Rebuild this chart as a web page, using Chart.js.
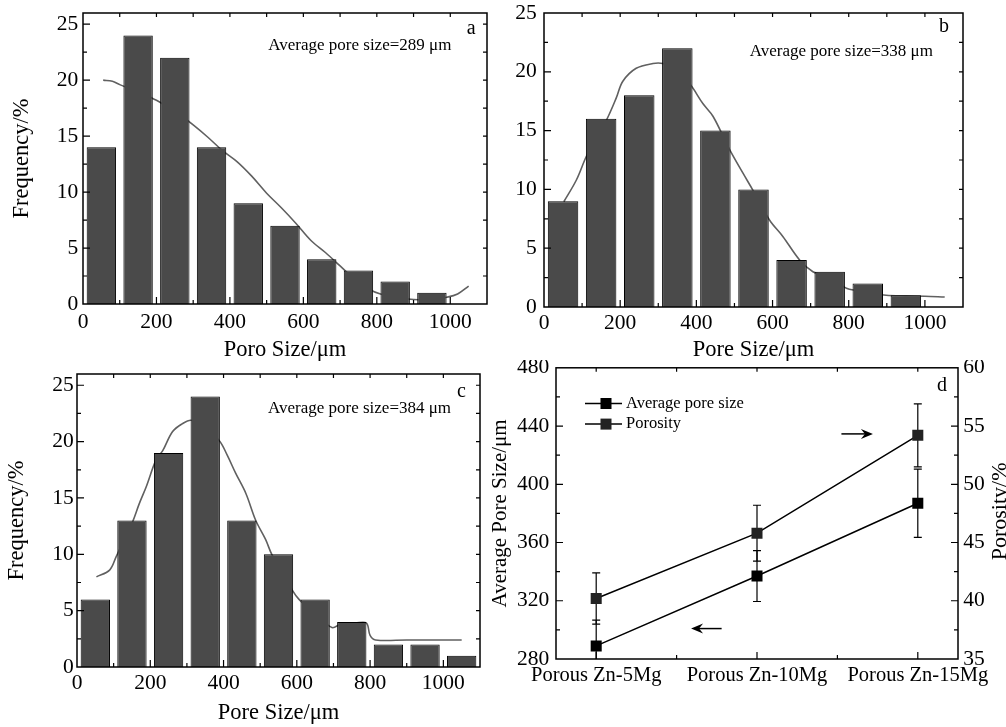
<!DOCTYPE html>
<html><head><meta charset="utf-8">
<script src="https://cdn.jsdelivr.net/npm/chart.js@4.4.1/dist/chart.umd.min.js"></script>
<style>
html,body{margin:0;padding:0;background:#fff;width:1006px;height:727px;overflow:hidden}
canvas{position:absolute}
</style></head><body>
<canvas id="ca" style="left:0;top:0" width="500" height="366"></canvas>
<canvas id="cb" style="left:490px;top:0" width="516" height="366"></canvas>
<canvas id="cc" style="left:0;top:360px" width="500" height="367"></canvas>
<canvas id="cd" style="left:490px;top:360px" width="516" height="367"></canvas>
<script>
const FONT = "'Liberation Serif', 'Times New Roman', serif";

// ---- histogram data ----
const binCenters = [50,150,250,350,450,550,650,750,850,950,1050];
const freqA = [14,24,22,14,9,7,4,3,2,1];
const freqB = [9,16,18,22,15,10,4,3,2,1];
const freqC = [6,13,19,24,13,10,6,4,2,2,1];

const fitAx = [55,80,100,130,160,200,230,260,300,340,380,420,460,500,540,580,620,660,700,740,780,810,850,900,950,990,1020,1050];
const fitAy = [20,19.9,19.6,19.2,18.8,18.2,17.6,17.0,16.0,14.9,13.7,12.7,11.4,9.9,8.6,7.2,5.7,4.6,3.4,2.2,1.3,0.9,0.6,0.4,0.4,0.6,0.9,1.6];

const fitBx = [52,85,111,140,164,190,207,242,286,312,340,382,417,444,487,522,549,592,627,671,706,741,794,820,860,898,950,1000,1052];
const fitBy = [8.95,10.8,12.8,14.6,15.9,17.8,19.2,20.3,20.7,20.7,20.3,19.0,17.3,16.2,13.4,11.4,9.9,7.4,6.0,4.0,3.0,2.6,1.6,1.4,1.15,1.0,0.95,0.92,0.85];

const fitCx = [53,89,107,130,152,170,189,216,234,261,288,311,340,388,410,433,461,488,515,533,570,588,606,630,660,696,720,760,790,800,815,900,1000,1050];
const fitCy = [8.0,8.6,9.8,11.4,12.9,14.5,16.0,18.4,19.2,20.9,21.6,21.9,21.5,20.1,18.8,17.2,15.4,13.0,11.3,9.9,8.0,6.8,6.0,5.3,4.5,3.5,3.8,3.9,3.9,2.8,2.4,2.4,2.4,2.4];

const histXTicks = [0,200,400,600,800,1000];
const histYTicks = [0,5,10,15,20,25];

// ---- panel d data ----
const alloys = ['Porous Zn-5Mg','Porous Zn-10Mg','Porous Zn-15Mg'];
const avgSize = [289,337,387];
const avgSizeErr = [17.7,17.5,23.4];
const porosity = [40.2,45.8,54.2];
const porosityErr = [2.2,2.4,2.7];
const sizeTicks = [280,320,360,400,440,480];
const porTicks = [35,40,45,50,55,60];

function pts(xs, ys){ return ys.map((y,i)=>({x:xs[i], y:y})); }

const decor = {
  id: 'decor',
  beforeDatasetsDraw(chart){
    const {ctx, chartArea:a} = chart;
    chart.data.datasets.forEach((ds,i)=>{
      if(!ds.errors) return;
      const meta = chart.getDatasetMeta(i);
      const ys = chart.scales[ds.yAxisID];
      ctx.save(); ctx.strokeStyle='#000'; ctx.lineWidth=1.2;
      ds.data.forEach((p,j)=>{
        const px = meta.data[j].x;
        const t = ys.getPixelForValue(p.y + ds.errors[j]);
        const b = ys.getPixelForValue(p.y - ds.errors[j]);
        ctx.beginPath();
        ctx.moveTo(px, Math.max(t,a.top)); ctx.lineTo(px, Math.min(b,a.bottom));
        if (t>=a.top){ ctx.moveTo(px-4,t); ctx.lineTo(px+4,t); }
        if (b<=a.bottom){ ctx.moveTo(px-4,b); ctx.lineTo(px+4,b); }
        ctx.stroke();
      });
      ctx.restore();
    });
  },
  afterDraw(chart, args, o){
    const {ctx, chartArea:a} = chart;
    ctx.save();
    ctx.strokeStyle='#000'; ctx.fillStyle='#000';
    const marks = (scale)=>{
      const maj = scale.ticks.map(t=>t.value);
      const h = (maj[1]-maj[0])/2, out=[];
      for(let i=Math.ceil((scale.min-maj[0])/h-1e-9); maj[0]+i*h<=scale.max+1e-9; i++)
        out.push({v:maj[0]+i*h, major:i%2===0});
      return out;
    };
    ctx.lineWidth=1.2;
    ctx.beginPath();
    const sx = chart.scales.x;
    marks(sx).forEach(m=>{
      const p = sx.getPixelForValue(m.v);
      if(p<a.left+1||p>a.right-1) return;
      ctx.moveTo(p,a.bottom); ctx.lineTo(p,a.bottom-(m.major?7:4));
      ctx.moveTo(p,a.top); ctx.lineTo(p,a.top+4);
    });
    const sy = chart.scales.y, sy2 = chart.scales.y2;
    marks(sy).forEach(m=>{
      const p = sy.getPixelForValue(m.v);
      if(p<a.top+1||p>a.bottom-1) return;
      ctx.moveTo(a.left,p); ctx.lineTo(a.left+(m.major?7:4),p);
      if(!sy2){ ctx.moveTo(a.right,p); ctx.lineTo(a.right-4,p); }
    });
    if(sy2) marks(sy2).forEach(m=>{
      const p = sy2.getPixelForValue(m.v);
      if(p<a.top+1||p>a.bottom-1) return;
      ctx.moveTo(a.right,p); ctx.lineTo(a.right-(m.major?7:4),p);
    });
    ctx.stroke();
    ctx.lineWidth=1.5;
    ctx.strokeRect(a.left,a.top,a.right-a.left,a.bottom-a.top);

    (o.notes||[]).forEach(n=>{
      ctx.font = n.size+'px '+FONT;
      ctx.textAlign = n.align; ctx.textBaseline='middle';
      ctx.fillText(n.text, sx.getPixelForValue(n.x), sy.getPixelForValue(n.y));
    });
    (o.arrows||[]).forEach(ar=>{
      const x1=sx.getPixelForValue(ar.x1), x2=sx.getPixelForValue(ar.x2), y=sy.getPixelForValue(ar.y);
      const d = x2>x1?1:-1;
      ctx.lineWidth=1.5;
      ctx.beginPath(); ctx.moveTo(x1,y); ctx.lineTo(x2-d*4,y); ctx.stroke();
      ctx.beginPath(); ctx.moveTo(x2,y); ctx.lineTo(x2-d*12,y-5); ctx.lineTo(x2-d*8,y); ctx.lineTo(x2-d*12,y+5); ctx.closePath(); ctx.fill();
    });
    if(o.legend){
      const L=o.legend;
      chart.data.datasets.forEach((ds,i)=>{
        const y=a.top+L.dy+i*L.gap, x0=a.left+L.dx;
        ctx.strokeStyle=ds.borderColor; ctx.lineWidth=1.5;
        ctx.beginPath(); ctx.moveTo(x0,y); ctx.lineTo(x0+37,y); ctx.stroke();
        ctx.fillStyle=ds.backgroundColor; ctx.fillRect(x0+21-5.5,y-5.5,11,11);
        ctx.fillStyle='#000'; ctx.font='16.5px '+FONT; ctx.textAlign='left'; ctx.textBaseline='middle';
        ctx.fillText(ds.label, x0+41, y);
      });
    }
    if(o.rightTitle){
      ctx.save();
      ctx.translate(sy2.right-0.5, (a.top+a.bottom)/2-2);
      ctx.rotate(-Math.PI/2);
      ctx.font='22px '+FONT; ctx.textAlign='center'; ctx.textBaseline='alphabetic'; ctx.fillStyle='#000';
      ctx.fillText(o.rightTitle,0,0);
      ctx.restore();
    }
    ctx.restore();
  }
};

function tickFont(){ return {family:FONT, size:21.5}; }
const TITLE_FONT = {family:FONT, size:22.5};

function hist(id, freq, fx, fy, p){
  new Chart(document.getElementById(id), {
    type:'bar',
    data:{ datasets:[
      {type:'bar', data:pts(binCenters,freq), backgroundColor:'#4a4a4a', borderColor:'#000', borderWidth:1,
       barPercentage:0.8, categoryPercentage:1.0, order:0},
      {type:'line', data:pts(fx,fy), borderColor:'#606060', borderWidth:1.6, pointRadius:0, tension:0.35, fill:false, order:1}
    ]},
    options:{
      responsive:false, animation:false, events:[],
      layout:{padding:{top:p.padTop, right:p.padRight, left:0, bottom:0}},
      plugins:{legend:{display:false}, tooltip:{enabled:false},
        decor:{notes:[
          {text:p.note, x:p.noteX, y:p.noteY, size:17, align:'right'},
          {text:p.letter, x:p.letX, y:p.letY, size:20, align:'center'}
        ]}},
      scales:{
        x:{type:'linear', min:0, max:1100, offset:false,
          grid:{display:false, drawTicks:false}, border:{display:false},
          afterBuildTicks:s=>{ s.ticks = histXTicks.map(v=>({value:v})); },
          ticks:{font:tickFont(), color:'#000', padding:p.xTickPad, maxRotation:0, autoSkip:false, callback:v=>String(v)},
          title:{display:true, text:p.xTitle, color:'#000', font:TITLE_FONT, padding:{top:0,bottom:p.xTitlePad}},
          afterFit:s=>{ s.height=p.xH; s.paddingLeft=0; s.paddingRight=0; }
        },
        y:{type:'linear', min:0, max:p.ymax,
          grid:{display:false, drawTicks:false}, border:{display:false},
          afterBuildTicks:s=>{ s.ticks = histYTicks.map(v=>({value:v})); },
          ticks:{font:tickFont(), color:'#000', padding:p.yTickPad, callback:v=>String(v)},
          title:{display:!!p.yTitle, text:p.yTitle||'', color:'#000', font:TITLE_FONT, padding:{top:p.yTitlePad||0,bottom:0}},
          afterFit:s=>{ s.width=p.yW; s.paddingTop=0; s.paddingBottom=0; }
        }
      }
    },
    plugins:[decor]
  });
}

hist('ca', freqA, fitAx, fitAy, {padTop:13, padRight:13, yW:83, xH:62, yTickPad:4.7, xTickPad:5.7, xTitlePad:2.5,
  yTitle:'Frequency/%', yTitlePad:8.5, xTitle:'Poro Size/\u03bcm', ymax:26,
  note:'Average pore size=289 \u03bcm', noteX:1003, noteY:23.1, letter:'a', letX:1057, letY:24.6});
hist('cb', freqB, fitBx, fitBy, {padTop:13, padRight:43, yW:54, xH:59, yTickPad:7.3, xTickPad:3.4, xTitlePad:2.5,
  yTitle:null, xTitle:'Pore Size/\u03bcm', ymax:25,
  note:'Average pore size=338 \u03bcm', noteX:1021, noteY:21.7, letter:'b', letX:1050, letY:23.8});
hist('cc', freqC, fitCx, fitCy, {padTop:14, padRight:20, yW:77, xH:60, yTickPad:3.3, xTickPad:3.4, xTitlePad:0,
  yTitle:'Frequency/%', yTitlePad:3.3, xTitle:'Pore Size/\u03bcm', ymax:26,
  note:'Average pore size=384 \u03bcm', noteX:1021, noteY:22.9, letter:'c', letX:1049, letY:24.4});

new Chart(document.getElementById('cd'), {
  type:'line',
  data:{ datasets:[
    {label:'Average pore size', data:avgSize.map((v,i)=>({x:i,y:v})), yAxisID:'y', errors:avgSizeErr,
     borderColor:'#000', backgroundColor:'#000', borderWidth:1.5, pointStyle:'rect', pointRadius:7.8, pointBorderWidth:0, tension:0},
    {label:'Porosity', data:porosity.map((v,i)=>({x:i,y:v})), yAxisID:'y2', errors:porosityErr,
     borderColor:'#000', backgroundColor:'#222', borderWidth:1.5, pointStyle:'rect', pointRadius:7.8, pointBorderWidth:0, tension:0}
  ]},
  options:{
    responsive:false, animation:false, events:[],
    layout:{padding:{top:6, right:0, left:0, bottom:0}},
    plugins:{legend:{display:false}, tooltip:{enabled:false},
      decor:{
        notes:[{text:'d', x:2.15, y:468, size:20, align:'center'}],
        arrows:[{x1:1.525, x2:1.721, y:434.6},{x1:0.78, x2:0.59, y:300.9}],
        legend:{dx:29, dy:35.7, gap:20.6},
        rightTitle:'Porosity/%'
      }},
    scales:{
      x:{type:'linear', min:-0.25, max:2.25, offset:false,
        grid:{display:false, drawTicks:false}, border:{display:false},
        afterBuildTicks:s=>{ s.ticks = alloys.map((_,i)=>({value:i})); },
        ticks:{font:{family:FONT,size:20.5}, color:'#000', padding:4.5, maxRotation:0, autoSkip:false, callback:v=>alloys[v]},
        afterFit:s=>{ s.height=68; s.paddingLeft=0; s.paddingRight=0; }
      },
      y:{type:'linear', position:'left', min:280, max:480,
        grid:{display:false, drawTicks:false}, border:{display:false},
        afterBuildTicks:s=>{ s.ticks = sizeTicks.map(v=>({value:v})); },
        ticks:{font:tickFont(), color:'#000', padding:6.7, callback:v=>String(v)},
        title:{display:true, text:'Average Pore Size/\u03bcm', color:'#000', font:{family:FONT,size:21}, padding:{top:-2.5,bottom:0}},
        afterFit:s=>{ s.width=66; s.paddingTop=0; s.paddingBottom=0; }
      },
      y2:{type:'linear', position:'right', min:35, max:60,
        grid:{display:false, drawTicks:false}, border:{display:false},
        afterBuildTicks:s=>{ s.ticks = porTicks.map(v=>({value:v})); },
        ticks:{font:tickFont(), color:'#000', padding:5.3, callback:v=>String(v)},
        afterFit:s=>{ s.width=48; s.paddingTop=0; s.paddingBottom=0; }
      }
    }
  },
  plugins:[decor]
});
</script>
</body></html>
